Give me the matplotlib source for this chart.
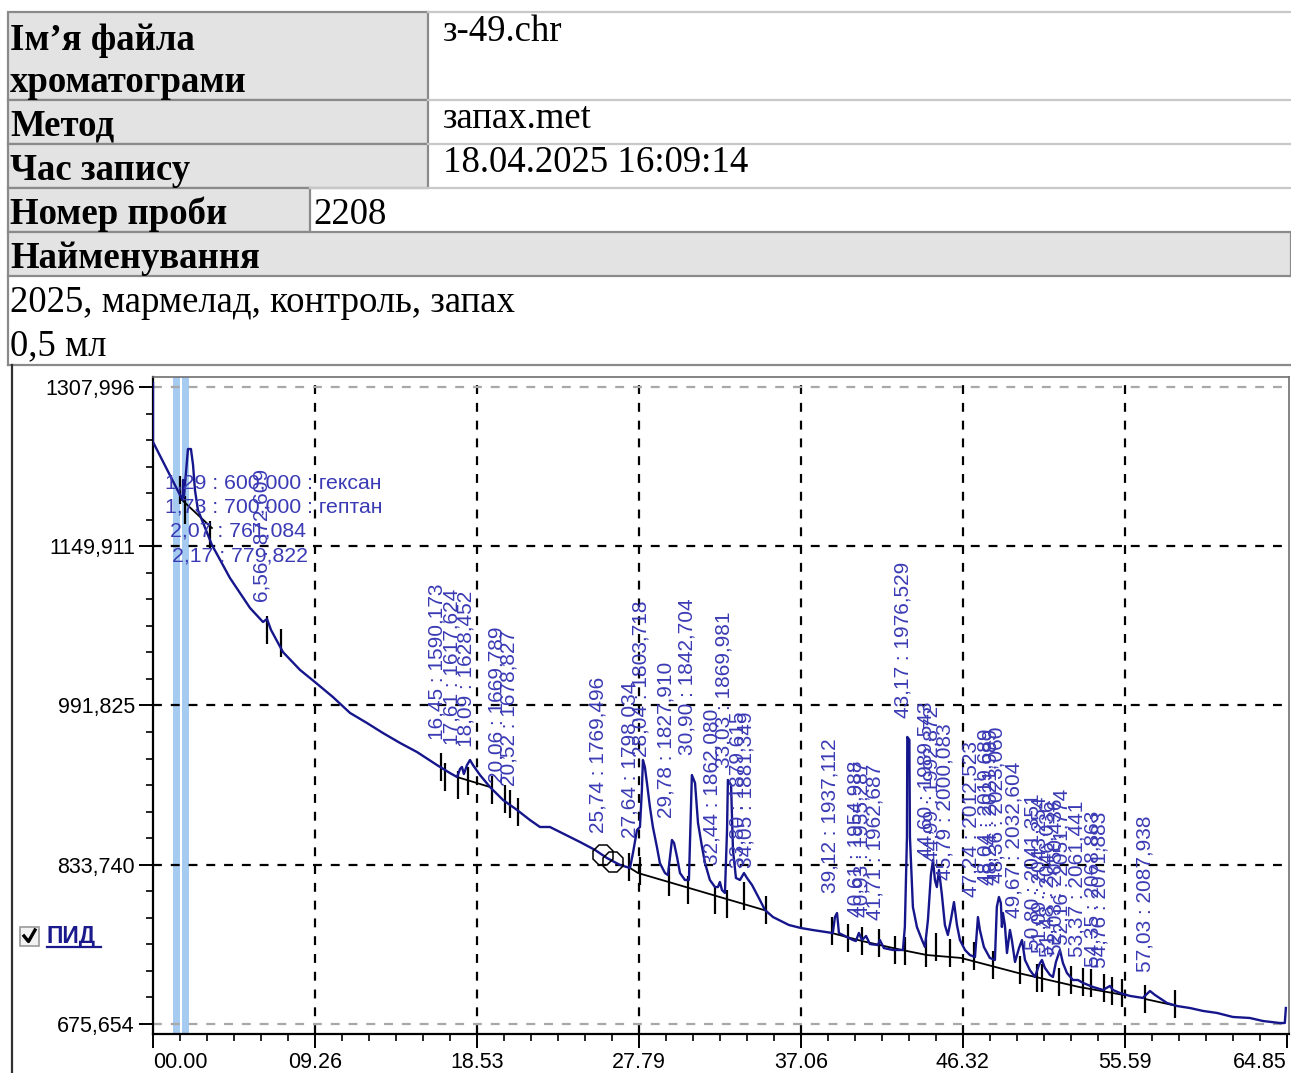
import matplotlib
matplotlib.use("Agg")
import matplotlib.pyplot as plt
from matplotlib.patches import Rectangle
from matplotlib.ticker import FixedLocator

# ---- header table text ----
row_labels = ["Ім’я файла", "хроматограми", "Метод", "Час запису", "Номер проби", "Найменування"]
row_values = ["з-49.chr", "запах.met", "18.04.2025 16:09:14", "2208"]
sample_lines = ["2025, мармелад, контроль, запах", "0,5 мл"]

# ---- axes ----
x_ticks = [0.0, 9.264, 18.528, 27.792, 37.056, 46.32, 55.584, 64.848]
x_tick_labels = ["00.00", "09.26", "18.53", "27.79", "37.06", "46.32", "55.59", "64.85"]
y_ticks = [675.654, 833.740, 991.825, 1149.911, 1307.996]
y_tick_labels = ["675,654", "833,740", "991,825", "1149,911", "1307,996"]

# ---- detector signal (min, mV) ----
sig_t = [0.00, 0.00, 1.60, 1.69, 1.72, 1.77, 1.89, 2.00, 2.17, 2.29,
         2.40, 2.57, 3.37, 4.40, 5.55, 6.29, 6.52, 6.75, 7.43, 8.41,
         9.26, 10.29, 11.27, 12.24, 13.15, 14.13, 15.10, 16.24, 16.98, 17.39,
         17.56, 17.67, 17.78, 17.96, 18.13, 18.30, 18.70, 19.27, 20.02, 20.82,
         21.56, 22.13, 22.70, 23.28, 24.42, 25.28, 25.96, 26.71, 27.28, 27.45,
         27.68, 27.85, 27.96, 28.02, 28.13, 28.25, 28.42, 28.59, 28.82, 28.99,
         29.28, 29.45, 29.68, 29.80, 29.97, 30.14, 30.42, 30.65, 30.82, 31.00,
         31.17, 31.40, 31.57, 31.85, 32.14, 32.31, 32.42, 32.54, 32.71, 32.83,
         32.88, 33.06, 33.17, 33.34, 33.57, 33.80, 33.97, 34.26, 34.71, 35.00,
         35.46, 36.37, 37.06, 37.74, 38.88, 39.00, 39.12, 39.23, 39.69, 40.03,
         40.20, 40.37, 40.55, 40.78, 41.00, 41.46, 41.57, 41.80, 42.32, 42.89,
         43.00, 43.12, 43.14, 43.26, 43.29, 43.46, 43.69, 43.98, 44.15, 44.32,
         44.49, 44.61, 44.72, 44.83, 44.95, 45.12, 45.29, 45.46, 45.63, 45.81,
         45.98, 46.15, 46.44, 46.72, 47.01, 47.18, 47.29, 47.52, 47.86, 48.15,
         48.26, 48.38, 48.49, 48.55, 48.61, 48.72, 48.84, 49.01, 49.12, 49.30,
         49.53, 49.70, 49.87, 50.15, 50.44, 50.67, 50.84, 51.01, 51.30, 51.47,
         51.64, 51.87, 52.04, 52.27, 52.61, 52.90, 53.19, 53.76, 54.33, 54.73,
         54.90, 55.30, 55.87, 56.61, 57.02, 57.30, 57.99, 58.56, 59.30, 60.05,
         60.85, 61.76, 62.73, 63.48, 64.45, 64.73, 64.79]
sig_v = [1312.0, 1253.4, 1198.8, 1195.8, 1215.7, 1198.8, 1223.6, 1246.4, 1246.4, 1230.6,
         1205.7, 1185.9, 1151.2, 1118.4, 1088.6, 1074.7, 1077.7, 1066.8, 1044.9, 1027.1,
         1015.1, 1000.2, 984.4, 974.4, 964.5, 954.6, 945.6, 932.7, 924.8, 920.8,
         928.8, 930.8, 923.8, 932.7, 937.7, 932.7, 922.8, 910.9, 898.0, 888.1,
         878.1, 871.2, 871.2, 866.2, 856.3, 848.4, 840.4, 833.5, 830.5, 845.4,
         868.2, 871.2, 907.9, 937.7, 930.8, 914.9, 891.0, 871.2, 851.3, 835.4,
         825.5, 823.5, 858.3, 855.3, 841.4, 825.5, 818.6, 818.6, 922.8, 914.9,
         875.2, 851.3, 835.4, 818.6, 811.6, 811.6, 816.6, 808.6, 805.7, 868.2,
         917.9, 912.9, 848.4, 820.6, 818.6, 825.5, 820.6, 813.6, 798.7, 788.8,
         781.8, 773.9, 770.9, 768.9, 765.9, 781.8, 785.8, 765.9, 761.9, 759.0,
         758.0, 766.0, 759.0, 763.0, 755.0, 754.0, 759.0, 751.0, 749.1, 749.1,
         772.0, 861.4, 960.6, 957.6, 861.4, 791.8, 771.9, 759.0, 752.1, 778.9,
         823.6, 838.5, 818.6, 811.6, 828.5, 803.7, 773.9, 764.0, 778.9, 796.7,
         773.9, 759.0, 749.1, 744.1, 742.1, 781.8, 769.0, 752.1, 741.2, 739.2,
         791.8, 801.7, 795.8, 771.9, 785.8, 773.9, 746.1, 769.0, 759.0, 737.2,
         751.1, 759.0, 739.2, 729.2, 722.3, 734.2, 739.2, 731.3, 724.3, 722.3,
         737.2, 749.1, 736.2, 726.3, 719.3, 719.3, 716.4, 712.4, 709.4, 713.4,
         709.4, 706.4, 703.5, 701.5, 708.4, 704.5, 696.5, 693.5, 691.5, 688.6,
         686.6, 682.6, 681.6, 678.6, 676.6, 676.6, 691.5]

# integration baselines (black)
base_segments = [
    ([1.66, 3.37], [1195.8, 1168.0]),
    ([17.39, 19.27], [920.8, 910.9]),
    ([27.28, 27.74, 32.02, 34.94], [830.5, 825.5, 803.7, 788.8]),
    ([38.83, 40.55, 42.83, 44.26, 46.21, 49.47, 52.96, 55.53],
     [765.9, 758.0, 749.1, 744.1, 741.2, 726.3, 712.4, 704.4]),
    ([56.73, 58.56], [700.5, 693.5]),
]

# peak start/end marks
mark_t = [1.54, 1.83, 3.26, 6.52, 7.32, 16.47, 16.70, 17.44, 18.01, 19.39,
          20.13, 20.42, 20.87, 27.22, 27.85, 29.51, 30.60, 32.14, 32.83, 33.80,
          35.06, 38.83, 39.74, 40.55, 41.52, 42.43, 43.00, 44.20, 44.78, 45.58,
          46.95, 48.04, 49.58, 50.55, 50.84, 51.81, 52.50, 53.19, 53.64, 54.39,
          54.84, 55.41, 56.73, 58.45]
mark_v = [1205.7, 1185.9, 1161.1, 1066.8, 1053.9, 930.8, 920.8, 912.9, 916.9, 907.9,
          899.0, 894.0, 886.1, 831.5, 827.5, 816.6, 808.6, 798.7, 794.8, 802.7,
          788.8, 767.9, 761.0, 758.0, 756.0, 749.1, 748.1, 746.1, 752.1, 746.1,
          743.1, 734.2, 729.2, 721.3, 721.3, 717.3, 719.3, 717.3, 716.3, 711.4,
          708.4, 706.4, 700.5, 695.5]

# reference marks
ref_t = [25.73, 26.31]
ref_v = [843.4, 836.5]

# selected windows
band_start = [1.13, 1.64]
band_end = [1.55, 2.08]

# standards (horizontal labels)
std_labels = ["1,29 : 600,000 : гексан", "1,73 : 700,000 : гептан",
              "2,07 : 761,084", "2,17 : 779,822"]
std_t = [0.69, 0.69, 0.97, 1.09]
std_v = [1212.7, 1189.0, 1165.2, 1140.3]

# peak labels
peak_labels = ["6,56 : 872,609", "16,45 : 1590,173", "17,61 : 1617,624", "18,09 : 1628,452",
               "20,06 : 1669,789", "20,52 : 1678,827", "25,74 : 1769,496", "27,64 : 1798,034",
               "28,04 : 1803,718", "29,78 : 1827,910", "30,90 : 1842,704", "32,44 : 1862,080",
               "33,03 : 1869,981", "33,80 : 1879,615", "34,05 : 1881,349", "39,12 : 1937,112",
               "40,61 : 1954,988", "40,93 : 1955,287", "41,71 : 1962,687", "43,17 : 1976,529",
               "44,60 : 1989,543", "44,99 : 1992,872", "45,79 : 2000,083", "47,24 : 2012,523",
               "48,04 : 2019,689", "48,24 : 2021,989", "48,36 : 2023,060", "49,67 : 2032,604",
               "50,80 : 2041,351", "51,09 : 2043,254", "51,48 : 2046,036", "52,03 : 2050,436",
               "52,16 : 2051,774", "53,37 : 2061,441", "54,35 : 2068,863", "54,76 : 2071,883",
               "57,03 : 2087,938"]
peak_t = [6.23, 16.24, 17.10, 17.90, 19.67, 20.36, 25.45, 27.28, 27.91, 29.34,
          30.54, 31.97, 32.65, 33.45, 33.91, 38.72, 40.20, 40.55, 41.29, 42.89,
          44.21, 44.55, 45.29, 46.78, 47.64, 47.92, 48.27, 49.24, 50.32, 50.73,
          51.18, 51.64, 51.98, 52.84, 53.76, 54.16, 56.73]
peak_lv = [1094.6, 957.6, 952.6, 950.6, 914.9, 911.9, 865.2, 860.3, 940.7, 880.1,
           942.7, 833.5, 929.8, 830.5, 830.5, 805.7, 781.9, 781.9, 778.9, 979.4,
           840.4, 836.5, 818.6, 801.7, 813.6, 813.6, 815.6, 780.9, 749.1, 746.1,
           742.1, 744.1, 754.1, 742.1, 732.2, 731.2, 727.3]

W, H = 1291, 1073
TRACE = "#16168c"
LABEL = "#3a3ab4"
SANS = "Liberation Sans"
SERIF = "Liberation Serif"

fig = plt.figure(figsize=(W / 100, H / 100), dpi=100)

# overlay in pixel units for the report header
hdr = fig.add_axes([0, 0, 1, 1])
hdr.set_xlim(0, W)
hdr.set_ylim(H, 0)
hdr.axis("off")

grey_fill = "#e3e3e3"
dark_edge = "#8a8a8a"
light_edge = "#c8c8c8"

# label cells: (x0, x1, y0, y1)
cells = [(8, 428, 12, 100), (8, 428, 100, 144), (8, 428, 144, 188), (8, 310, 188, 232), (8, 1291, 232, 276)]
for x0, x1, y0, y1 in cells:
    hdr.add_patch(Rectangle((x0, y0), x1 - x0, y1 - y0, fc=grey_fill, ec=dark_edge, lw=1.6))
for y in [12, 100, 144]:
    hdr.plot([428, W], [y, y], color=light_edge, lw=1.6)
hdr.plot([310, W], [188, 188], color=light_edge, lw=1.6)
hdr.plot([8, 8], [276, 365], color=dark_edge, lw=1.6)
hdr.plot([8, W], [365, 365], color=dark_edge, lw=1.6)
hdr.plot([12, 12], [365, H], color="#303030", lw=1.6)

lab_base = [50, 92, 136, 180, 224, 268]
for s, yb in zip(row_labels, lab_base):
    hdr.text(10, yb, s, family=SERIF, weight="bold", fontsize=26.5, va="baseline", ha="left")
val_pos = [(443, 41), (443, 128), (443, 172), (313, 224)]
for s, (xv, yb) in zip(row_values, val_pos):
    hdr.text(xv, yb, s, family=SERIF, fontsize=26.5, va="baseline", ha="left")
for s, yb in zip(sample_lines, [312, 355]):
    hdr.text(10, yb, s, family=SERIF, fontsize=26.5, va="baseline", ha="left")

# detector checkbox
hdr.add_patch(Rectangle((20, 927), 19, 19, fc="#f2f2f2", ec="#9a9a9a", lw=1.2))
hdr.plot([24, 28.5, 35], [936, 941.5, 930], color="k", lw=2.4)
hdr.text(47, 937, "ПИД", family=SANS, weight="bold", fontsize=16.5, color="#1a1a8c",
         va="center", ha="left")
hdr.plot([47, 101], [947, 947], color="#1a1a8c", lw=1.6)

# chromatogram axes
ax = fig.add_axes([153 / W, 1 - 1034 / H, (1289 - 153) / W, (1034 - 377) / H])
ax.set_xlim(0, 64.97)
ax.set_ylim(665.7, 1317.9)

for b0, b1 in zip(band_start, band_end):
    ax.axvspan(b0, b1, color="#a6cbf0", lw=0, zorder=0.5)

dash = (0, (4, 4))
for xt in x_ticks[1:-1]:
    ax.axvline(xt, color="k", lw=1.6, ls=dash, zorder=1)
for yt in y_ticks[1:-1]:
    ax.axhline(yt, color="k", lw=1.6, ls=dash, zorder=1)
for yt in (y_ticks[0], y_ticks[-1]):
    ax.axhline(yt, color="#a8a8a8", lw=1.6, ls=dash, zorder=1)

for bt, bv in base_segments:
    ax.plot(bt, bv, color="k", lw=1.3, zorder=2)
ax.vlines(mark_t, [v - 14 for v in mark_v], [v + 14 for v in mark_v], color="k", lw=1.6, zorder=2)
ax.plot(sig_t, sig_v, color=TRACE, lw=1.7, zorder=3)
ax.plot(ref_t, ref_v, ls="none", marker="8", ms=15, mfc="none", mec="k", mew=1.1, zorder=4)

for s, t, v in zip(std_labels, std_t, std_v):
    ax.text(t, v, s, family=SANS, fontsize=15.3, color=LABEL, ha="left", va="center", zorder=5)
for s, t, v in zip(peak_labels, peak_t, peak_lv):
    ax.text(t, v, s, family=SANS, fontsize=15, color=LABEL, rotation=90,
            ha="center", va="bottom", zorder=5)

# ticks
ax.xaxis.set_major_locator(FixedLocator(x_ticks))
ax.set_xticklabels(x_tick_labels, family=SANS, fontsize=15.5)
ax.yaxis.set_major_locator(FixedLocator(y_ticks))
ax.set_yticklabels(y_tick_labels, family=SANS, fontsize=15.5)
step_x = x_ticks[1] / 6
ax.xaxis.set_minor_locator(FixedLocator([i * step_x for i in range(43) if i % 6]))
step_y = (y_ticks[1] - y_ticks[0]) / 6
ax.yaxis.set_minor_locator(FixedLocator([y_ticks[0] + i * step_y for i in range(25) if i % 6]))
ax.tick_params(axis="both", which="major", direction="out", length=10, width=1.4, pad=3)
ax.tick_params(axis="both", which="minor", direction="out", length=5, width=1.2)
lbls = ax.get_xticklabels()
lbls[0].set_ha("left")
lbls[-1].set_ha("right")

for side in ("left", "bottom"):
    ax.spines[side].set_color("k")
    ax.spines[side].set_linewidth(1.6)
for side in ("top", "right"):
    ax.spines[side].set_color("#707070")
    ax.spines[side].set_linewidth(1.2)

fig.savefig("out.png", dpi=100)
